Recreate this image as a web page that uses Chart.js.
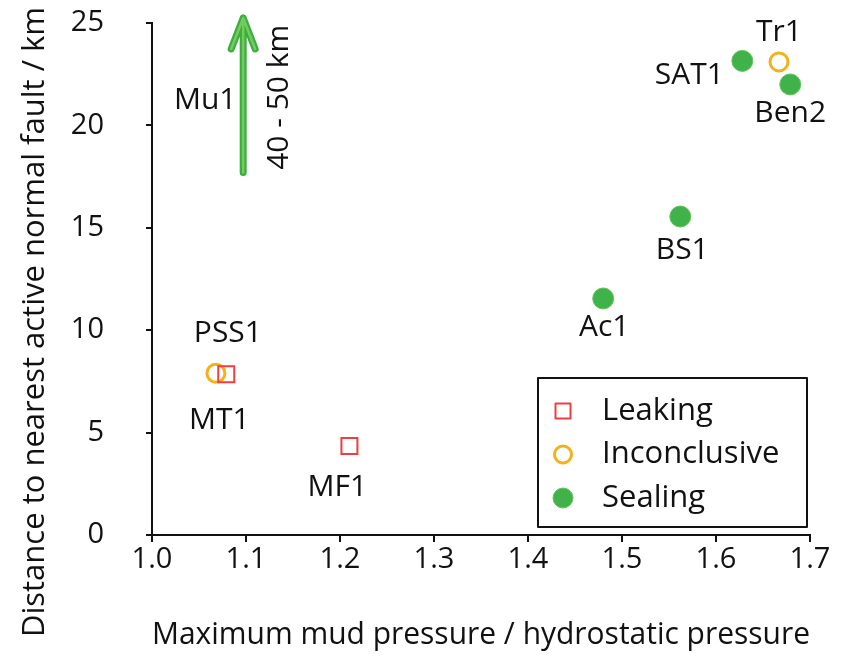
<!DOCTYPE html>
<html>
<head>
<meta charset="utf-8">
<script src="https://cdn.jsdelivr.net/npm/chart.js@4"></script>
<style>
  html, body { margin: 0; padding: 0; background: #fff; }
  #wrap { width: 849px; height: 659px; position: relative; }
</style>
</head>
<body>
<div id="wrap"><canvas id="chartMud"></canvas></div>
<script>
// datos
const nombres  = ['MT1', 'MF1', 'PSS1', 'Tr1', 'SAT1', 'Ben2', 'BS1', 'Ac1'];
const presion  = [1.079, 1.21, 1.068, 1.667, 1.628, 1.679, 1.562, 1.48];
const distancia = [7.85, 4.35, 7.9, 23.1, 23.15, 22.0, 15.55, 11.55];
const estado   = ['Leaking', 'Leaking', 'Inconclusive', 'Inconclusive', 'Sealing', 'Sealing', 'Sealing', 'Sealing'];
const categorias = ['Leaking', 'Inconclusive', 'Sealing'];

// Mu1: fuera de escala (40 - 50 km), se dibuja como flecha
const mu1_presion = 1.097;
const mu1_desde = 17.7;
const mu1_hasta = 25;

const x_ticks = [1.0, 1.1, 1.2, 1.3, 1.4, 1.5, 1.6, 1.7];
const y_ticks = [0, 5, 10, 15, 20, 25];

// desplazamiento de cada etiqueta respecto a su punto (px)
const etiqueta_offset = {
    MT1: [-7, 46], MF1: [-12, 42], PSS1: [12, -40], Tr1: [0, -29],
    SAT1: [-53, 15], Ben2: [0, 29], BS1: [2, 34], Ac1: [1, 29]
};

const FUENTE = '"Open Sans", "DejaVu Sans", sans-serif';
const estilos = {
    Leaking:      { pointStyle: 'rect',   radius: 11.3, borderColor: '#ee3e42', backgroundColor: 'rgba(0,0,0,0)', borderWidth: 2 },
    Inconclusive: { pointStyle: 'circle', radius: 9,    borderColor: '#f2b21b', backgroundColor: 'rgba(0,0,0,0)', borderWidth: 3 },
    Sealing:      { pointStyle: 'circle', radius: 10.5, borderColor: '#62c45a', backgroundColor: '#3fb34a', borderWidth: 1 }
};

const datasets = categorias.map(cat => {
    const puntos = [];
    nombres.forEach((n, i) => {
        if (estado[i] === cat) puntos.push({ x: presion[i], y: distancia[i], nombre: n });
    });
    const e = estilos[cat];
    return {
        label: cat,
        data: puntos,
        pointStyle: e.pointStyle,
        pointRadius: e.radius,
        pointHoverRadius: e.radius,
        pointBorderColor: e.borderColor,
        pointBackgroundColor: e.backgroundColor,
        pointBorderWidth: e.borderWidth,
        pointHoverBorderWidth: e.borderWidth,
        clip: false
    };
});

const chartEl = document.getElementById('chartMud');
const chart = new Chart(chartEl, {
    type: 'scatter',
    data: { datasets: datasets },
    options: {
        responsive: true,
        maintainAspectRatio: false,
        animation: false,
        layout: { padding: { top: 23, right: 39, left: 0, bottom: 0 } },
        plugins: {
            legend: { display: false },
            tooltip: { enabled: false }
        },
        scales: {
            x: {
                type: 'linear',
                min: 1.0, max: 1.7,
                afterBuildTicks: s => { s.ticks = x_ticks.map(v => ({ value: v })); },
                afterFit: s => { s.height = 124; s.paddingLeft = 0; s.paddingRight = 0; },
                ticks: {
                    callback: v => v.toFixed(1),
                    color: '#111', padding: 0,
                    font: { family: FUENTE, size: 29 }
                },
                grid: { drawOnChartArea: false, drawTicks: true, tickLength: 7, color: '#111', lineWidth: 2 },
                border: { display: true, color: '#111', width: 2 },
                title: {
                    display: true,
                    text: 'Maximum mud pressure / hydrostatic pressure',
                    color: '#111',
                    padding: { top: 0, bottom: 5 },
                    font: { family: FUENTE, size: 31 }
                }
            },
            y: {
                type: 'linear',
                min: 0, max: 25,
                afterBuildTicks: s => { s.ticks = y_ticks.map(v => ({ value: v })); },
                afterFit: s => { s.width = 152; s.paddingTop = 0; s.paddingBottom = 0; },
                ticks: {
                    color: '#111', padding: 42,
                    font: { family: FUENTE, size: 29 }
                },
                grid: { drawOnChartArea: false, drawTicks: true, tickLength: 6, color: '#111', lineWidth: 2 },
                border: { display: true, color: '#111', width: 2 }
            }
        }
    },
    plugins: [{
        id: 'extras',
        afterDatasetsDraw(chart) {
            const { ctx, chartArea, scales } = chart;
            ctx.save();

            // etiquetas de los puntos
            ctx.fillStyle = '#111';
            ctx.font = '30px ' + FUENTE;
            ctx.textAlign = 'center';
            ctx.textBaseline = 'middle';
            chart.data.datasets.forEach((ds, di) => {
                chart.getDatasetMeta(di).data.forEach((pt, i) => {
                    const n = ds.data[i].nombre;
                    const off = etiqueta_offset[n] || [0, -30];
                    ctx.fillText(n, pt.x + off[0], pt.y + off[1]);
                });
            });

            // flecha Mu1
            const ax = scales.x.getPixelForValue(mu1_presion);
            const y0 = scales.y.getPixelForValue(mu1_desde);
            const y1 = scales.y.getPixelForValue(mu1_hasta) - 5;
            const dibujaFlecha = (color, ancho) => {
                ctx.strokeStyle = color;
                ctx.lineWidth = ancho;
                ctx.lineCap = 'round';
                ctx.lineJoin = 'round';
                ctx.beginPath();
                ctx.moveTo(ax, y0);
                ctx.lineTo(ax, y1);
                ctx.moveTo(ax - 12, y1 + 31);
                ctx.lineTo(ax, y1);
                ctx.lineTo(ax + 12, y1 + 31);
                ctx.stroke();
            };
            dibujaFlecha('#3bae3f', 7);
            dibujaFlecha('#72cc5e', 2.5);

            ctx.fillStyle = '#111';
            ctx.fillText('Mu1', ax - 38, 100);
            ctx.save();
            ctx.translate(ax + 36, (y0 + y1) / 2 + 2);
            ctx.rotate(-Math.PI / 2);
            ctx.fillText('40 - 50 km', 0, 0);
            ctx.restore();

            // leyenda
            const bx = chartArea.right - 272, by = chartArea.bottom - 157;
            const bw = 269, bh = 149;
            ctx.strokeStyle = '#111';
            ctx.lineWidth = 2;
            ctx.strokeRect(bx, by, bw, bh);
            ctx.textAlign = 'left';
            ctx.font = '31px ' + FUENTE;
            categorias.forEach((cat, k) => {
                const e = estilos[cat];
                const cy = by + 33 + k * 43.5;
                ctx.fillStyle = e.backgroundColor;
                ctx.strokeStyle = e.borderColor;
                ctx.lineWidth = e.borderWidth;
                ctx.beginPath();
                if (e.pointStyle === 'rect') {
                    ctx.rect(bx + 25 - 7.5, cy - 7.5, 15, 15);
                } else {
                    ctx.arc(bx + 25, cy, cat === 'Sealing' ? 10 : 8.5, 0, Math.PI * 2);
                }
                ctx.fill();
                ctx.stroke();
                ctx.fillStyle = '#111';
                ctx.fillText(cat, bx + 64, cy);
            });

            // titulo del eje y
            ctx.save();
            ctx.translate(35, 322);
            ctx.rotate(-Math.PI / 2);
            ctx.textAlign = 'center';
            ctx.fillStyle = '#111';
            ctx.fillText('Distance to nearest active normal fault / km', 0, 0);
            ctx.restore();

            ctx.restore();
        }
    }]
});
</script>
</body>
</html>
